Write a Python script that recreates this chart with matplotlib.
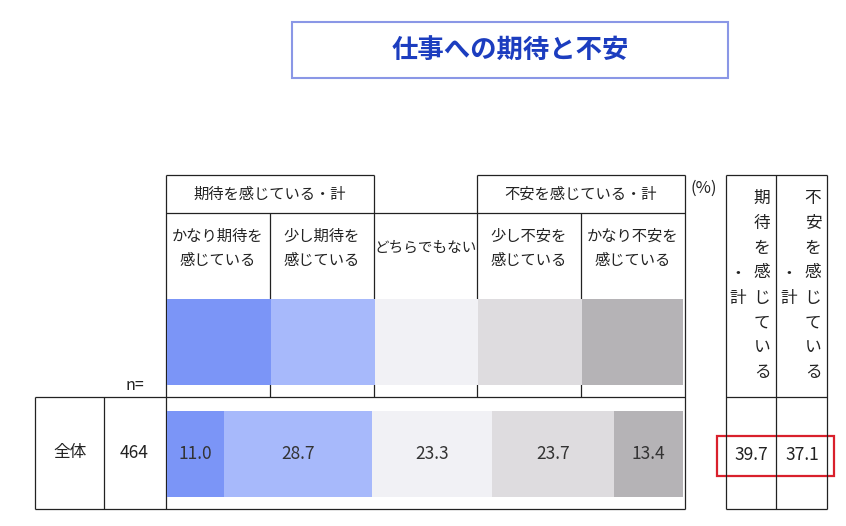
import matplotlib.pyplot as plt
from matplotlib.patches import Rectangle

plt.rcParams['font.family'] = ['Noto Sans CJK JP', 'DejaVu Sans']

title = '仕事への期待と不安'
groups = ['期待を感じている・計', '不安を感じている・計']
categories = ['かなり期待を\n感じている', '少し期待を\n感じている', 'どちらでもない',
              '少し不安を\n感じている', 'かなり不安を\n感じている']
colors = ['#7b95f7', '#a7b9fb', '#f1f1f5', '#dedcdf', '#b5b3b6']
row_label = '全体'
n_total = 464
values = [11.0, 28.7, 23.3, 23.7, 13.4]
sum_labels = ['期待を感じている', '不安を感じている']
sum_values = [39.7, 37.1]

W, H = 846, 526
fig = plt.figure(figsize=(W / 100, H / 100), dpi=100)
ax = fig.add_axes([0, 0, 1, 1])
ax.set_xlim(0, W)
ax.set_ylim(H, 0)
ax.axis('off')

lc = '#222222'
lw = 0.9

def line(x0, y0, x1, y1, **kw):
    ax.plot([x0, x1], [y0, y1], color=kw.get('color', lc), lw=kw.get('lw', lw),
            solid_capstyle='butt', zorder=2)

# title box
ax.add_patch(Rectangle((292, 22), 436, 56, fill=False, ec='#8a97e6', lw=1.5))
ax.text(510, 50, title, ha='center', va='center', fontsize=19,
        fontweight='bold', color='#1c3dbf')

# header table
cols = [166, 270, 374, 477, 581, 685]
top, mid, sw_top, sw_bot, row_top, row_bot = 175, 213, 299, 385, 397, 509
line(166, top, 374, top)
line(477, top, 685, top)
line(166, mid, 685, mid)
line(166, top, 166, row_bot)
line(374, top, 374, row_top)
line(477, top, 477, row_top)
line(685, top, 685, row_bot)
line(270, mid, 270, row_top)
line(581, mid, 581, row_top)
ax.text(270, 194, groups[0], ha='center', va='center', fontsize=11, color='#222')
ax.text(581, 194, groups[1], ha='center', va='center', fontsize=11, color='#222')

for i, (lab, c) in enumerate(zip(categories, colors)):
    x0, x1 = cols[i], cols[i + 1]
    ax.text((x0 + x1) / 2, 248, lab, ha='center', va='center',
            fontsize=11 if '\n' in lab else 10.5, color='#222', linespacing=1.55)
    w = x1 - x0 + 0.5 if i < len(categories) - 1 else x1 - x0 - 3
    ax.add_patch(Rectangle((x0 + 1, sw_top), w, sw_bot - sw_top,
                           color=c, lw=0, zorder=3))

ax.text(690, 188, '(%)', ha='left', va='center', fontsize=12, color='#222')
ax.text(135, 385, 'n=', ha='center', va='center', fontsize=11.5, color='#222')

# data row
line(35, row_top, 685, row_top)
line(35, row_bot, 685, row_bot)
line(35, row_top, 35, row_bot)
line(104, row_top, 104, row_bot)
ax.text(70, 453, row_label, ha='center', va='center', fontsize=12, color='#222')
ax.text(134, 453, str(n_total), ha='center', va='center', fontsize=12.5, color='#222')

# stacked bar in its own axes
bax = fig.add_axes([167 / W, 1 - 497 / H, 516 / W, 86 / H])
left = 0
for v, c in zip(values, colors):
    bax.barh(0, v, left=left, height=1, color=c, lw=0)
    bax.text(left + v / 2, 0, f'{v:.1f}', ha='center', va='center',
             fontsize=12.5, color='#333')
    left += v
bax.set_xlim(0, sum(values))
bax.set_ylim(-0.5, 0.5)
bax.axis('off')

# summary columns
line(726, top, 827, top)
line(726, row_top, 827, row_top)
line(726, row_bot, 827, row_bot)
for x in (726, 776, 827):
    line(x, top, x, row_bot)
for j, (lab, v) in enumerate(zip(sum_labels, sum_values)):
    xc = 762 + j * 51
    for k, ch in enumerate(lab):
        ax.text(xc, 198 + k * 25, ch, ha='center', va='center', fontsize=12,
                color='#222')
    ax.text(xc - 24, 273, '・', ha='center', va='center', fontsize=12, color='#222')
    ax.text(xc - 24, 298, '計', ha='center', va='center', fontsize=12, color='#222')
    ax.text(751 + j * 51, 455, f'{v:.1f}', ha='center', va='center',
            fontsize=12.5, color='#222')

ax.add_patch(Rectangle((717, 436), 117, 40, fill=False, ec='#d9202c', lw=1.6))

fig.savefig('out.png', dpi=100, facecolor='white')
